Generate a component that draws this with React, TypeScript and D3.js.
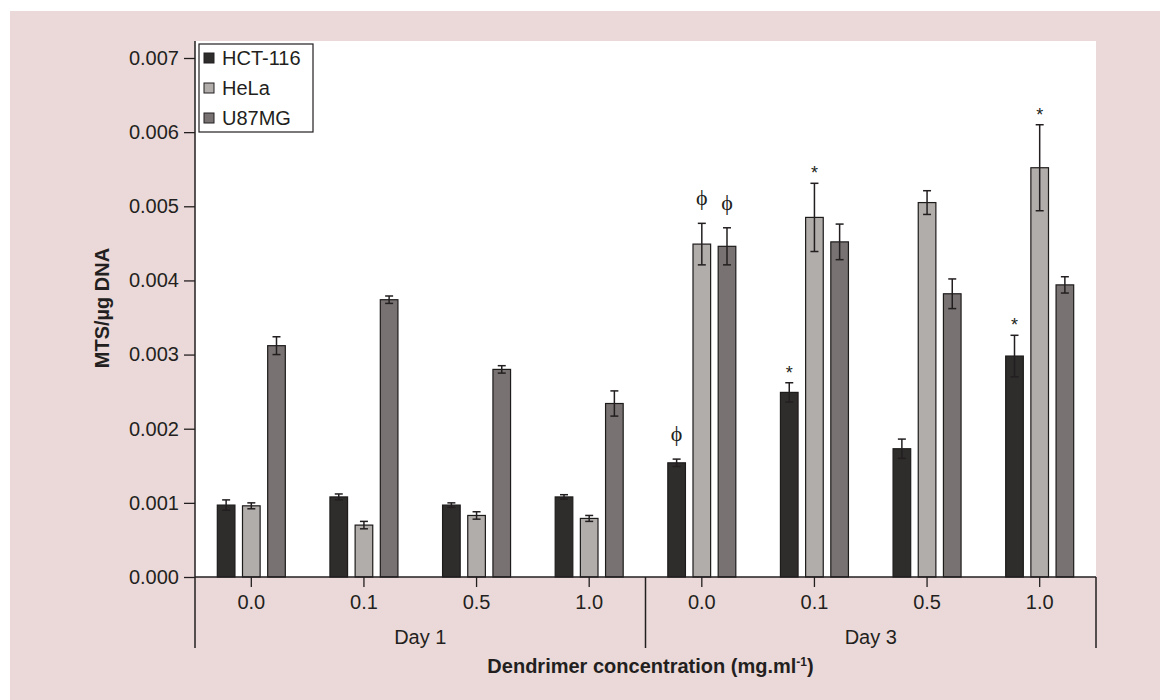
import React, { useEffect, useRef } from 'react';
import * as d3 from 'd3';

// categories
const days = ['Day 1', 'Day 3'];
const concentrations = ['0.0', '0.1', '0.5', '1.0'];
const seriesNames = ['HCT-116', 'HeLa', 'U87MG'];

// values (Day 1: 0.0, 0.1, 0.5, 1.0, then Day 3: 0.0, 0.1, 0.5, 1.0)
const hct116 = [0.00097, 0.00108, 0.00097, 0.00108, 0.00154, 0.00249, 0.00173, 0.00298];
const hct116Err = [0.00007, 0.00004, 0.00003, 0.00003, 0.00005, 0.00013, 0.00013, 0.00028];
const hela = [0.00096, 0.0007, 0.00083, 0.00079, 0.00449, 0.00485, 0.00505, 0.00552];
const helaErr = [0.00004, 0.00005, 0.00005, 0.00004, 0.00028, 0.00046, 0.00016, 0.00058];
const u87mg = [0.00312, 0.00374, 0.0028, 0.00234, 0.00446, 0.00452, 0.00382, 0.00394];
const u87mgErr = [0.00012, 0.00005, 0.00005, 0.00017, 0.00025, 0.00024, 0.0002, 0.00011];

const yTicks = [0, 0.001, 0.002, 0.003, 0.004, 0.005, 0.006, 0.007];

// significance marks: [group index, series index, symbol]
const marks: [number, number, string][] = [
  [4, 0, 'ϕ'], [4, 1, 'ϕ'], [4, 2, 'ϕ'],
  [5, 0, '*'], [5, 1, '*'],
  [7, 0, '*'], [7, 1, '*'],
];

const colors = ['#2f2c2c', '#b1adab', '#787372'];
const ink = '#231f20';
const font = '"Liberation Sans", Arial, Helvetica, sans-serif';

const App = () => {
  const ref = useRef<SVGSVGElement | null>(null);

  useEffect(() => {
    if (!ref.current) return;
    const svg = d3.select(ref.current);
    svg.selectAll('*').remove();

    const W = 1160, H = 700;
    const left = 195, right = 1096, top = 41, bottom = 577, bracketBottom = 648;

    const groups = days.flatMap(d => concentrations.map(c => `${d}|${c}`));
    const values = [hct116, hela, u87mg];
    const errors = [hct116Err, helaErr, u87mgErr];

    const x0 = d3.scaleBand().domain(groups).range([left, right]).padding(0);
    const xDay = d3.scaleBand().domain(days).range([left, right]).padding(0);
    const x1 = d3.scaleBand().domain(seriesNames).range([-34, 34]).paddingInner(0.3).paddingOuter(0);
    const y = d3.scaleLinear().domain([0, 0.007]).range([bottom, 58]);

    // background
    svg.append('rect').attr('x', 10).attr('y', 11).attr('width', W - 10).attr('height', H - 11)
      .attr('fill', '#ebd9d9');
    svg.append('rect').attr('x', left).attr('y', top).attr('width', right - left).attr('height', bottom - top)
      .attr('fill', '#ffffff');

    // bars
    const rows = groups.flatMap((g, i) => seriesNames.map((s, j) => ({
      g, s, j, v: values[j][i], e: errors[j][i],
    })));

    const bars = svg.append('g');
    bars.selectAll('rect')
      .data(rows)
      .enter()
      .append('rect')
      .attr('x', d => x0(d.g)! + x0.bandwidth() / 2 + x1(d.s)!)
      .attr('width', x1.bandwidth())
      .attr('y', d => y(d.v))
      .attr('height', d => y(0) - y(d.v))
      .attr('fill', d => colors[d.j])
      .attr('stroke', '#1e1b1b')
      .attr('stroke-width', 1.2);

    // error bars
    const eb = svg.append('g').attr('stroke', ink).attr('stroke-width', 1.5);
    rows.forEach(d => {
      const cx = x0(d.g)! + x0.bandwidth() / 2 + x1(d.s)! + x1.bandwidth() / 2;
      const y1 = y(d.v + d.e), y2 = y(d.v - d.e);
      eb.append('line').attr('x1', cx).attr('x2', cx).attr('y1', y1).attr('y2', y2);
      eb.append('line').attr('x1', cx - 4).attr('x2', cx + 4).attr('y1', y1).attr('y2', y1);
      eb.append('line').attr('x1', cx - 4).attr('x2', cx + 4).attr('y1', y2).attr('y2', y2);
    });

    // significance marks
    marks.forEach(([gi, si, sym]) => {
      const g = groups[gi];
      const s = seriesNames[si];
      const cx = x0(g)! + x0.bandwidth() / 2 + x1(s)! + x1.bandwidth() / 2;
      const yTop = y(values[si][gi] + errors[si][gi]);
      const isPhi = sym !== '*';
      svg.append('text')
        .attr('x', cx)
        .attr('y', yTop - (isPhi ? 18 : 4))
        .attr('text-anchor', 'middle')
        .style('font-family', isPhi ? '"Liberation Serif", "DejaVu Serif", serif' : font)
        .style('font-size', isPhi ? '22px' : '18px')
        .style('fill', ink)
        .text(sym);
    });

    // y axis
    const yAxis = svg.append('g')
      .attr('transform', `translate(${left},0)`)
      .call(d3.axisLeft(y).tickValues(yTicks).tickFormat(d3.format('.3f')).tickSize(11).tickPadding(5));
    yAxis.select('.domain').remove();
    yAxis.selectAll('line').attr('stroke', ink).attr('stroke-width', 1.3);
    yAxis.selectAll('text')
      .style('font-family', font)
      .style('font-size', '20px')
      .style('fill', ink);

    // x axis
    const xAxis = svg.append('g')
      .attr('transform', `translate(0,${bottom})`)
      .call(d3.axisBottom(x0).tickFormat(d => d.split('|')[1]).tickSize(10).tickPadding(8));
    xAxis.select('.domain').remove();
    xAxis.selectAll('line').attr('stroke', ink).attr('stroke-width', 1.3);
    xAxis.selectAll('text')
      .style('font-family', font)
      .style('font-size', '20px')
      .style('fill', ink);

    // axis lines and day brackets
    const lines = svg.append('g').attr('stroke', ink).attr('stroke-width', 1.5);
    lines.append('line').attr('x1', left).attr('x2', right).attr('y1', bottom).attr('y2', bottom);
    lines.append('line').attr('x1', left).attr('x2', left).attr('y1', top).attr('y2', bracketBottom);
    days.forEach(d => {
      const xe = xDay(d)! + xDay.bandwidth();
      lines.append('line').attr('x1', xe).attr('x2', xe).attr('y1', bottom).attr('y2', bracketBottom);
    });

    svg.append('g').selectAll('text')
      .data(days)
      .enter()
      .append('text')
      .attr('x', d => xDay(d)! + xDay.bandwidth() / 2)
      .attr('y', 644)
      .attr('text-anchor', 'middle')
      .style('font-family', font)
      .style('font-size', '20px')
      .style('fill', ink)
      .text(d => d);

    // axis titles
    const xt = svg.append('text')
      .attr('x', (left + right) / 2 + 5)
      .attr('y', 673)
      .attr('text-anchor', 'middle')
      .style('font-family', font)
      .style('font-size', '20px')
      .style('font-weight', 'bold')
      .style('fill', ink);
    xt.append('tspan').text('Dendrimer concentration (mg.ml');
    xt.append('tspan').attr('dy', -7).style('font-size', '12px').text('-1');
    xt.append('tspan').attr('dy', 7).text(')');

    svg.append('text')
      .attr('transform', `translate(109,308) rotate(-90)`)
      .attr('text-anchor', 'middle')
      .style('font-family', font)
      .style('font-size', '20px')
      .style('font-weight', 'bold')
      .style('fill', ink)
      .text('MTS/µg DNA');

    // legend
    const lg = svg.append('g').attr('transform', 'translate(199,44)');
    lg.append('rect').attr('width', 114).attr('height', 88)
      .attr('fill', '#ffffff').attr('stroke', ink).attr('stroke-width', 1.2);
    seriesNames.forEach((s, i) => {
      const cy = 14 + i * 30;
      lg.append('rect').attr('x', 5).attr('y', cy - 5).attr('width', 10).attr('height', 10)
        .attr('fill', colors[i]).attr('stroke', ink).attr('stroke-width', 1);
      lg.append('text').attr('x', 23).attr('y', cy + 7)
        .style('font-family', font)
        .style('font-size', '20px')
        .style('fill', ink)
        .text(s);
    });
  }, []);

  return (
    <div style={{ position: 'absolute', left: 0, top: 0 }}>
      <svg ref={ref} width={1160} height={700} style={{ display: 'block' }} />
    </div>
  );
};

export default App;
